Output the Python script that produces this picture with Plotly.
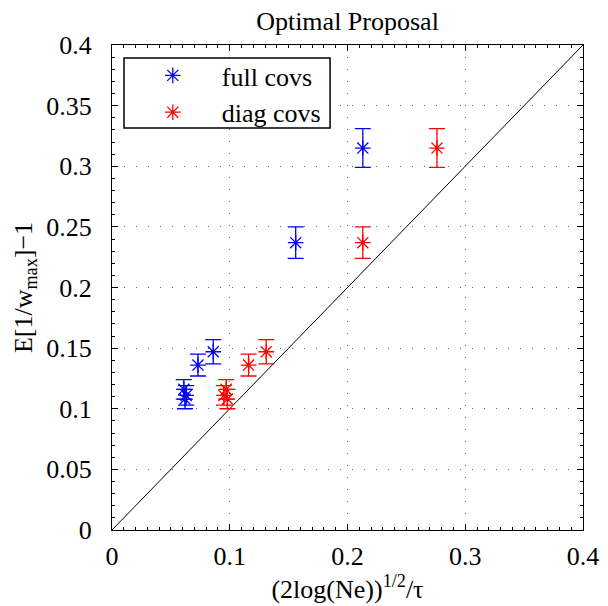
import plotly.graph_objects as go

full_x = [0.061, 0.063, 0.062, 0.073, 0.086, 0.156, 0.213]
full_y = [0.116, 0.111, 0.108, 0.136, 0.147, 0.237, 0.315]
full_err = [0.008, 0.008, 0.008, 0.009, 0.010, 0.013, 0.016]

diag_x = [0.097, 0.095, 0.098, 0.116, 0.131, 0.213, 0.276]
diag_y = [0.116, 0.111, 0.108, 0.136, 0.147, 0.237, 0.315]
diag_err = [0.008, 0.008, 0.008, 0.009, 0.010, 0.013, 0.016]

ref_x = [0, 0.4]
ref_y = [0, 0.4]

font = "Liberation Serif, Times New Roman, serif"
FS = 26

fig = go.Figure()
fig.add_trace(go.Scatter(x=ref_x, y=ref_y, mode="lines", line=dict(color="black", width=1),
                         showlegend=False, hoverinfo="skip"))
fig.add_trace(go.Scatter(x=full_x, y=full_y, mode="markers", name="full covs",
                         marker=dict(symbol="asterisk-open", size=13, color="blue",
                                     line=dict(color="blue", width=1.3)),
                         error_y=dict(type="data", array=full_err, color="blue", thickness=1.3, width=8)))
fig.add_trace(go.Scatter(x=diag_x, y=diag_y, mode="markers", name="diag covs",
                         marker=dict(symbol="asterisk-open", size=13, color="red",
                                     line=dict(color="red", width=1.3)),
                         error_y=dict(type="data", array=diag_err, color="red", thickness=1.3, width=8)))

axis_common = dict(
    showline=True, linecolor="black", linewidth=1, mirror="allticks",
    ticks="inside", ticklen=6, tickcolor="black",
    showgrid=True, gridcolor="#666", griddash="1px,11px", gridwidth=1,
    zeroline=False, automargin=False,
    tickfont=dict(family=font, size=FS, color="black"),
    minor=dict(ticks="inside", ticklen=3, tickcolor="black", showgrid=False),
)

fig.update_xaxes(range=[0, 0.4], dtick=0.1, tick0=0, ticklabelstandoff=3, **axis_common,
                 title=dict(text="(2log(Ne))<sup>1/2</sup>/τ", font=dict(family=font, size=FS, color="black"), standoff=0))
fig.update_xaxes(minor_dtick=0.01)
fig.update_yaxes(range=[0, 0.4], dtick=0.05, tick0=0, ticklabelstandoff=14, **axis_common,
                 title=dict(text="E[1/w<sub>max</sub>]−1", font=dict(family=font, size=FS, color="black"), standoff=6))
fig.update_yaxes(minor_dtick=0.01)

# legend frame (white box with black border)
fig.add_shape(type="rect", xref="paper", yref="paper",
              x0=0.0255, x1=0.463, y0=0.829, y1=0.973,
              line=dict(color="black", width=1.5), fillcolor="white", layer="above")

fig.update_layout(
    width=608, height=606,
    margin=dict(l=104, r=33, t=37, b=84),
    plot_bgcolor="white", paper_bgcolor="white",
    title=dict(text="Optimal Proposal", x=0.5, xanchor="center", xref="paper",
               y=0.978, yref="container", yanchor="middle",
               font=dict(family=font, size=FS, color="black")),
    legend=dict(x=0.025, y=0.9856, xanchor="left", yanchor="top",
                borderwidth=0, bgcolor="rgba(0,0,0,0)",
                font=dict(family=font, size=FS, color="black"),
                itemwidth=88, tracegroupgap=0),
    font=dict(family=font),
)

fig.write_html("out.html")
